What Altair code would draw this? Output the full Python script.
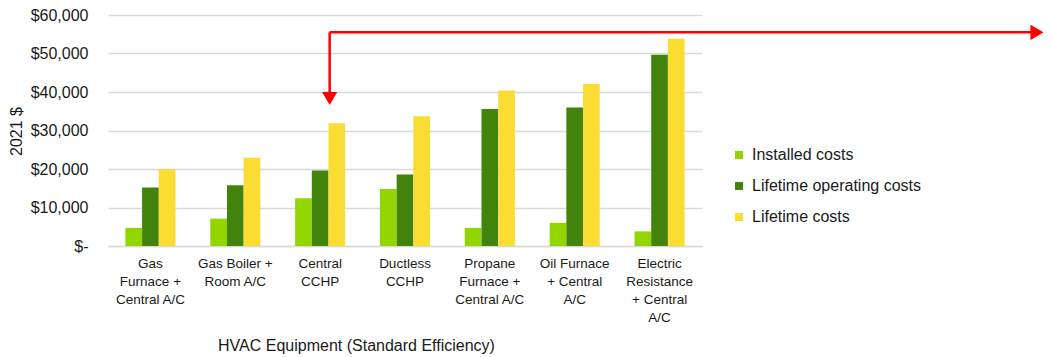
import altair as alt
import pandas as pd

categories = [
    "Gas|Furnace +|Central A/C",
    "Gas Boiler +|Room A/C",
    "Central|CCHP",
    "Ductless|CCHP",
    "Propane|Furnace +|Central A/C",
    "Oil Furnace|+ Central|A/C",
    "Electric|Resistance|+ Central|A/C",
]
series = ["Installed costs", "Lifetime operating costs", "Lifetime costs"]
installed = [4700, 7100, 12400, 14800, 4700, 6000, 3800]
operating = [15200, 15800, 19600, 18600, 35600, 36000, 49700]
lifetime = [20000, 22900, 31900, 33700, 40400, 42100, 53800]
colors = ["#93D500", "#41830B", "#FADC33"]
y_ticks = [0, 10000, 20000, 30000, 40000, 50000, 60000]

rows = []
for i, c in enumerate(categories):
    for s, vals in zip(series, [installed, operating, lifetime]):
        rows.append({"equipment": c, "series": s, "cost": vals[i]})
df = pd.DataFrame(rows)

# annotation arrow pointing at the Central CCHP lifetime-cost bar
arrow_df = pd.DataFrame({
    "equipment": ["Central|CCHP"],
    "cost": [55500],
    "stem_end": [40000],
    "head": [38300],
})

FONT = "Liberation Sans"
TXT = "#1a1a1a"
RED = "#FF0000"

x_axis = alt.Axis(
    title="HVAC Equipment (Standard Efficiency)",
    labelExpr="split(datum.label, '|')",
    labelAngle=0,
    ticks=False,
    domain=True,
    domainColor="#D9D9D9",
    domainWidth=1.5,
    labelFont=FONT,
    labelFontSize=13.5,
    labelLineHeight=18,
    labelPadding=10,
    labelColor=TXT,
    labelLimit=300,
    titleFont=FONT,
    titleFontSize=16,
    titleFontWeight="normal",
    titleColor=TXT,
    titleX=248,
    titleY=99,
    titleBaseline="middle",
)
x_scale = alt.Scale(paddingInner=0.41, paddingOuter=0.205)

y_axis = alt.Axis(
    title="2021 $",
    values=y_ticks,
    labelExpr="datum.value == 0 ? '$-' : '$' + format(datum.value, ',')",
    labelOverlap=False,
    grid=True,
    gridColor="#D9D9D9",
    gridWidth=1.5,
    domain=False,
    ticks=False,
    labelPadding=20,
    labelFont=FONT,
    labelFontSize=16,
    labelColor=TXT,
    titleFont=FONT,
    titleFontSize=16,
    titleFontWeight="normal",
    titleColor=TXT,
    titleX=-92,
    titleY=116,
    titleAngle=-90,
    titleBaseline="middle",
    titleAlign="center",
)
y_scale = alt.Scale(domain=[0, 60000], nice=False)


def xe(**kw):
    return alt.X("equipment:N", sort=categories, scale=x_scale, axis=x_axis, **kw)


def ye(field):
    return alt.Y(field, scale=y_scale, axis=y_axis)


bars = alt.Chart(df).mark_bar().encode(
    x=xe(),
    xOffset=alt.XOffset("series:N", sort=series, scale=alt.Scale(paddingInner=0, paddingOuter=0)),
    y=ye("cost:Q"),
    color=alt.Color(
        "series:N",
        sort=series,
        scale=alt.Scale(domain=series, range=colors),
        legend=alt.Legend(
            orient="none",
            legendX=623,
            legendY=132,
            title=None,
            symbolType="square",
            symbolSize=64,
            symbolStrokeWidth=0,
            labelFont=FONT,
            labelFontSize=16,
            labelColor=TXT,
            labelOffset=5,
            labelLimit=300,
            rowPadding=15,
        ),
    ),
)

BP = 0.69  # position inside the Central CCHP group (over the lifetime-cost bar)
stem = alt.Chart(arrow_df).mark_rule(color=RED, strokeWidth=2.5).encode(
    x=xe(bandPosition=BP),
    y=ye("cost:Q"),
    y2="stem_end:Q",
)
head_down = alt.Chart(arrow_df).mark_point(
    shape="triangle-down", filled=True, color=RED, size=230, opacity=1
).encode(
    x=xe(bandPosition=BP),
    y=ye("head:Q"),
)
horiz = alt.Chart(arrow_df).mark_rule(color=RED, strokeWidth=2.5).encode(
    x=xe(bandPosition=BP),
    x2=alt.value(933),
    y=ye("cost:Q"),
)
head_right = alt.Chart(arrow_df).mark_point(
    shape="triangle-right", filled=True, color=RED, size=230, opacity=1
).encode(
    x=alt.value(929),
    y=ye("cost:Q"),
)

chart = (
    alt.layer(bars, stem, horiz, head_down, head_right)
    .properties(
        width=594,
        height=231,
        autosize="none",
        padding={"left": 100, "top": 7, "right": 341, "bottom": 110},
        background="white",
    )
    .configure_view(stroke=None)
)

chart.save("out.html", embed_options={"renderer": "svg", "actions": False})
